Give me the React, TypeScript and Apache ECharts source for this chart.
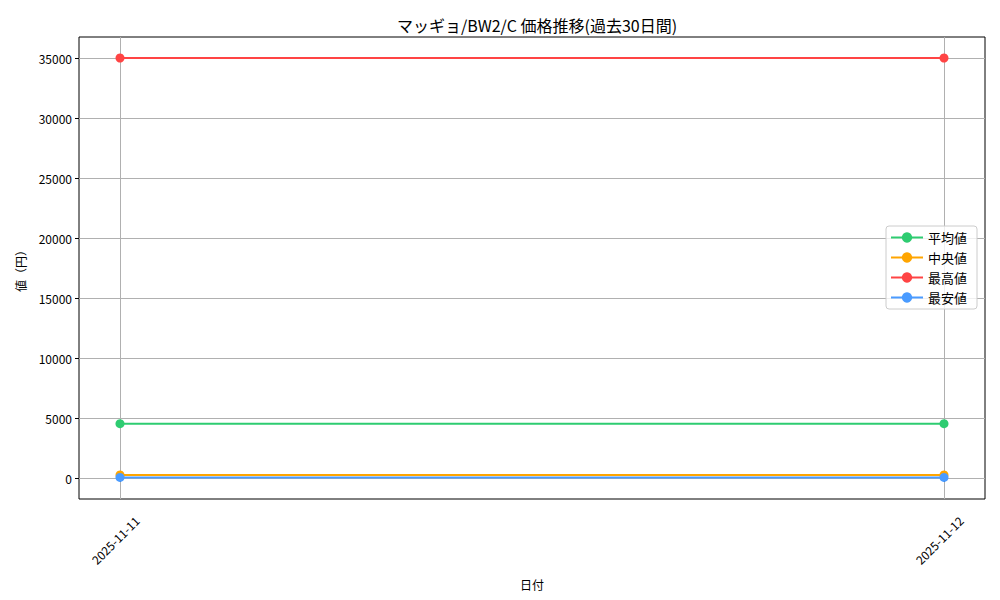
import React, { useEffect, useRef } from "react";
import * as echarts from "echarts";

const dates = ["2025-11-11", "2025-11-12"];
const avgValues = [4530, 4530];
const medianValues = [250, 250];
const maxValues = [35000, 35000];
const minValues = [50, 50];
const seriesNames = ["平均値", "中央値", "最高値", "最安値"];
const seriesColors = ["#2ecc71", "#ffa500", "#ff4444", "#4a9bff"];
const titleText = "マッギョ/BW2/C 価格推移(過去30日間)";
const xName = "日付";
const yName = "値（円）";

const FONT = "'Noto Sans CJK JP', 'Noto Sans', sans-serif";

export default function App() {
  const ref = useRef<HTMLDivElement>(null);
  useEffect(() => {
    if (!ref.current) return;
    const chart = echarts.init(ref.current, undefined, { renderer: "svg" });
    const values = [avgValues, medianValues, maxValues, minValues];
    const option: any = {
      animation: false,
      backgroundColor: "#ffffff",
      textStyle: { fontFamily: FONT },
      title: {
        text: titleText,
        left: 532,
        top: 12,
        textAlign: "center",
        textStyle: { fontFamily: FONT, fontSize: 16, fontWeight: "normal", color: "#000" },
      },
      legend: {
        orient: "vertical",
        right: 23,
        top: 226,
        padding: [5, 10, 5, 4],
        itemGap: 7,
        itemWidth: 32,
        itemHeight: 13,
        borderColor: "#cccccc",
        borderWidth: 1,
        borderRadius: 3,
        backgroundColor: "rgba(255,255,255,0.8)",
        textStyle: { fontFamily: FONT, fontSize: 13, color: "#000" },
        data: seriesNames,
      },
      grid: [
        { left: 79, top: 37, width: 906, height: 462, show: true, borderColor: "#000", borderWidth: 1, backgroundColor: "transparent", containLabel: false },
        { left: 79, top: 58, width: 906, height: 420, containLabel: false },
        { left: 120, top: 37, width: 824, height: 462, containLabel: false },
      ],
      xAxis: [
        { gridIndex: 0, type: "value", show: false, min: 0, max: 1 },
        { gridIndex: 1, type: "value", show: false, min: 0, max: 1 },
        {
          gridIndex: 2,
          type: "category",
          data: dates,
          boundaryGap: false,
          axisLine: { show: false },
          axisTick: { show: true, length: 4, inside: false, lineStyle: { color: "#000", width: 1 } },
          splitLine: { show: true, lineStyle: { color: "#b0b0b0", width: 1 } },
          axisLabel: {
            rotate: 45,
            align: "center",
            verticalAlign: "middle",
            margin: 36,
            padding: [0, 14, 0, 0],
            color: "#000",
            fontSize: 12,
            fontFamily: FONT,
          },
          name: xName,
          nameLocation: "middle",
          nameGap: 79,
          nameTextStyle: { color: "#000", fontSize: 12, fontFamily: FONT },
        },
      ],
      yAxis: [
        { gridIndex: 0, type: "value", show: false, min: 0, max: 1 },
        {
          gridIndex: 1,
          type: "value",
          min: 0,
          max: 35000,
          interval: 5000,
          axisLine: { show: false },
          axisTick: { show: true, length: 4, lineStyle: { color: "#000", width: 1 } },
          axisLabel: {
            color: "#000",
            fontSize: 12,
            margin: 7,
            fontFamily: FONT,
            formatter: (v: number) => String(v),
          },
          splitLine: { show: true, lineStyle: { color: "#b0b0b0", width: 1 } },
          name: yName,
          nameLocation: "middle",
          nameGap: 53,
          nameTextStyle: { color: "#000", fontSize: 12, fontFamily: FONT },
        },
        { gridIndex: 2, type: "value", show: false, min: -1750, max: 36750 },
      ],
      series: seriesNames.map((name, i) => ({
        name,
        type: "line",
        xAxisIndex: 2,
        yAxisIndex: 2,
        data: values[i],
        symbol: "circle",
        symbolSize: 9,
        showSymbol: true,
        color: seriesColors[i],
        lineStyle: { color: seriesColors[i], width: 2 },
        itemStyle: { color: seriesColors[i] },
      })),
    };
    chart.setOption(option);
    return () => chart.dispose();
  }, []);
  return (
    <div
      ref={ref}
      style={{ position: "fixed", left: 0, top: 0, width: 1000, height: 600 }}
    />
  );
}
